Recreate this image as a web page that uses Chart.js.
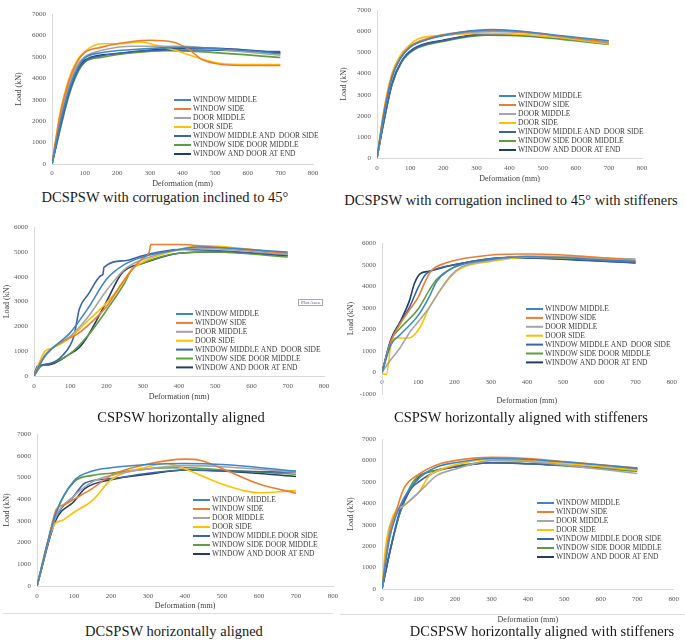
<!DOCTYPE html>
<html>
<head>
<meta charset="utf-8">
<script src="https://cdn.jsdelivr.net/npm/chart.js@4.4.1/dist/chart.umd.min.js"></script>
<style>
  body { margin: 0; background: #fff; width: 685px; height: 640px; position: relative; overflow: hidden; font-family: 'Liberation Serif', 'Times New Roman', serif; }
  .pane { position: absolute; }
  .cap { position: absolute; font-size: 14.5px; line-height: 16px; color: #1a1a1a; white-space: nowrap; transform: translateX(-50%); }
  .rule { position: absolute; height: 1px; background: #dcdcdc; }
  .plotarea { position: absolute; font-size: 5px; color: #555; border: 1px solid #aaa; padding: 0 2px; background: #fff; }
</style>
</head>
<body>

<div class="pane" id="p1"><canvas id="c1"></canvas></div>
<div class="pane" id="p2"><canvas id="c2"></canvas></div>
<div class="pane" id="p3"><canvas id="c3"></canvas></div>
<div class="pane" id="p4"><canvas id="c4"></canvas></div>
<div class="pane" id="p5"><canvas id="c5"></canvas></div>
<div class="pane" id="p6"><canvas id="c6"></canvas></div>

<div class="plotarea" style="left:298px;top:299px;">Plot Area</div>
<div class="rule" style="left:3px;top:613px;width:330px;"></div>
<div class="rule" style="left:340px;top:614px;width:345px;"></div>

<div class="cap" style="left:165px;top:189px;">DCSPSW with corrugation inclined to 45°</div>
<div class="cap" style="left:511px;top:192px;">DCSPSW with corrugation inclined to 45° with stiffeners</div>
<div class="cap" style="left:181px;top:409px;">CSPSW horizontally aligned</div>
<div class="cap" style="left:521px;top:409px;">CSPSW horizontally aligned with stiffeners</div>
<div class="cap" style="left:174px;top:623px;">DCSPSW horizontally aligned</div>
<div class="cap" style="left:542px;top:623px;">DCSPSW horizontally aligned with stiffeners</div>

<script>
// legend labels (panels 5 and 6 use a shorter 5th label)
const labelsA = ['WINDOW MIDDLE', 'WINDOW SIDE', 'DOOR MIDDLE', 'DOOR SIDE',
  'WINDOW MIDDLE AND  DOOR SIDE', 'WINDOW SIDE DOOR MIDDLE', 'WINDOW AND DOOR AT END'];
const labelsB = ['WINDOW MIDDLE', 'WINDOW SIDE', 'DOOR MIDDLE', 'DOOR SIDE',
  'WINDOW MIDDLE DOOR SIDE', 'WINDOW SIDE DOOR MIDDLE', 'WINDOW AND DOOR AT END'];
const seriesColors = ['#3f86c6', '#ed7d31', '#a5a5a5', '#ffc000', '#3c63a8', '#5e9e3f', '#223d66'];

const xTicks = [0, 100, 200, 300, 400, 500, 600, 700, 800];

// 1: DCSPSW with corrugation inclined to 45°  [deformation, load]
const p1WinMid  = [[0,0],[25,1900],[50,3400],[75,4400],[100,4950],[150,5200],[250,5350],[400,5450],[550,5350],[700,5150]];
const p1WinSide = [[0,0],[25,2300],[50,3800],[75,4700],[100,5200],[150,5450],[200,5620],[300,5780],[370,5700],[420,5350],[460,4880],[520,4650],[600,4600],[700,4600]];
const p1DoorMid = [[0,0],[25,2100],[50,3600],[75,4550],[100,5000],[150,5300],[250,5500],[400,5500],[550,5300],[700,5080]];
const p1DoorSide= [[0,0],[25,2400],[50,3900],[75,4800],[100,5250],[150,5620],[200,5620],[270,5700],[320,5550],[380,5300],[450,4950],[520,4700],[600,4650],[700,4650]];
const p1WinMidDoorSide = [[0,0],[25,1700],[50,3200],[75,4250],[100,4800],[150,5050],[250,5250],[350,5330],[450,5330],[700,5250]];
const p1WinSideDoorMid = [[0,0],[25,1600],[50,3100],[75,4150],[100,4750],[150,4980],[250,5200],[350,5300],[450,5250],[700,4980]];
const p1WinDoorEnd = [[0,0],[25,1700],[50,3200],[75,4250],[100,4850],[200,5150],[350,5380],[450,5420],[550,5370],[700,5200]];

// 2: DCSPSW with corrugation inclined to 45° with stiffeners
const p2WinMid  = [[0,0],[20,2000],[45,3800],[70,4700],[100,5250],[150,5600],[250,5950],[350,6080],[450,5980],[550,5800],[700,5550]];
const p2WinSide = [[0,0],[20,2100],[45,3900],[70,4750],[100,5300],[150,5650],[250,5950],[350,6020],[450,5950],[550,5780],[700,5480]];
const p2DoorMid = [[0,0],[20,2000],[45,3800],[70,4700],[100,5250],[150,5620],[250,5900],[350,5980],[450,5930],[550,5760],[700,5450]];
const p2DoorSide= [[0,0],[20,2200],[45,4000],[70,4850],[95,5300],[125,5650],[200,5800],[300,5900],[400,5880],[550,5700],[700,5400]];
const p2WinMidDoorSide = [[0,0],[20,1700],[45,3500],[75,4600],[110,5150],[200,5550],[330,5850],[450,5800],[700,5450]];
const p2WinSideDoorMid = [[0,0],[20,1650],[45,3450],[75,4550],[110,5100],[200,5520],[330,5820],[450,5770],[700,5380]];
const p2WinDoorEnd = [[0,0],[20,1700],[45,3500],[75,4600],[110,5180],[200,5580],[330,5870],[450,5810],[700,5420]];

// 3: CSPSW horizontally aligned
const p3WinMid  = [[0,0],[30,800],[100,1750],[150,2750],[200,3900],[250,4500],[300,4800],[400,5100],[450,5200],[700,5000]];
const p3WinSide = [[0,0],[20,600],[50,1100],[100,1550],[115,1650],[150,2050],[200,2800],[250,3900],[300,4750],[318,5000],[322,5300],[400,5300],[480,5220],[700,4950]];
const p3DoorMid = [[0,0],[30,850],[100,1600],[150,2400],[200,3450],[250,4300],[300,4700],[450,5150],[700,4900]];
const p3DoorSide= [[0,0],[30,1000],[50,1120],[100,1550],[150,2250],[200,2950],[240,3650],[270,4300],[300,4600],[400,5100],[460,5250],[700,4950]];
const p3WinMidDoorSide = [[0,0],[15,400],[40,480],[80,850],[110,1600],[125,2700],[150,3300],[185,4050],[190,4100],[193,4380],[250,4650],[300,4850],[400,5100],[700,4880]];
const p3WinSideDoorMid = [[0,0],[20,400],[50,520],[100,900],[150,1650],[200,2650],[250,3750],[270,4300],[300,4550],[400,4950],[500,5000],[700,4800]];
const p3WinDoorEnd = [[0,0],[10,400],[40,450],[100,900],[125,1150],[150,1650],[200,3000],[240,4100],[260,4350],[300,4550],[400,4950],[500,5000],[700,4850]];

// 4: CSPSW horizontally aligned with stiffeners
const p4WinMid  = [[0,0],[25,1300],[50,1750],[100,2650],[130,3500],[150,4200],[180,4700],[300,5250],[400,5370],[700,5150]];
const p4WinSide = [[0,0],[25,1450],[50,2250],[80,3000],[100,3500],[120,4250],[135,4700],[180,5100],[300,5450],[400,5500],[500,5450],[700,5200]];
const p4DoorMid = [[0,0],[20,500],[50,1150],[80,1950],[100,2350],[130,3000],[160,3800],[190,4500],[220,4900],[300,5200],[400,5400],[700,5270]];
const p4DoorSide= [[0,0],[5,-80],[12,-80],[25,1300],[40,1600],[75,1600],[105,2100],[130,3000],[160,3800],[190,4450],[220,4850],[300,5150],[400,5350],[700,5200]];
const p4WinMidDoorSide = [[0,0],[25,1500],[50,2300],[75,3000],[100,3950],[120,4550],[140,4750],[200,5000],[350,5350],[700,5100]];
const p4WinSideDoorMid = [[0,0],[25,1500],[50,2050],[100,2950],[130,3800],[150,4300],[200,4900],[300,5280],[400,5350],[700,5150]];
const p4WinDoorEnd = [[0,0],[25,1550],[50,2350],[75,3300],[90,4150],[105,4580],[130,4700],[200,5000],[350,5330],[700,5080]];

// 5: DCSPSW horizontally aligned
const p5WinMid  = [[0,0],[50,3300],[100,4850],[150,5300],[200,5450],[300,5600],[400,5650],[500,5600],[700,5300]];
const p5WinSide = [[0,0],[30,2100],[50,3450],[58,3650],[75,3750],[100,4000],[150,4500],[200,5100],[300,5620],[400,5850],[440,5800],[500,5420],[600,4700],[700,4280]];
const p5DoorMid = [[0,0],[50,3150],[100,4150],[150,4800],[200,5100],[300,5400],[400,5550],[500,5500],[700,5250]];
const p5DoorSide= [[0,0],[30,2100],[50,2900],[68,3020],[100,3400],[150,3950],[200,4900],[300,5500],[350,5650],[400,5400],[500,4700],[600,4300],[700,4400]];
const p5WinMidDoorSide = [[0,0],[50,3100],[100,4150],[130,4750],[200,4950],[300,5200],[400,5350],[500,5300],[700,5250]];
const p5WinSideDoorMid = [[0,0],[50,3300],[100,4800],[150,5100],[200,5200],[300,5400],[400,5450],[500,5350],[700,5150]];
const p5WinDoorEnd = [[0,0],[50,3000],[100,3900],[130,4500],[200,4900],[300,5150],[400,5350],[500,5300],[700,5050]];

// 6: DCSPSW horizontally aligned with stiffeners
const p6WinMid  = [[0,0],[20,2300],[50,3900],[100,5150],[150,5700],[200,5900],[300,6100],[400,6050],[700,5650]];
const p6WinSide = [[0,0],[20,2500],[40,3700],[60,4700],[100,5350],[150,5800],[200,6000],[300,6150],[400,6100],[500,5950],[700,5650]];
const p6DoorMid = [[0,0],[20,2700],[40,3600],[60,3900],[100,4500],[150,5300],[200,5600],[300,6000],[400,5950],[700,5400]];
const p6DoorSide= [[0,0],[10,2000],[30,3400],[40,3700],[60,3900],[100,4500],[130,5300],[150,5500],[200,5800],[300,6050],[400,6000],[700,5550]];
const p6WinMidDoorSide = [[0,0],[25,2000],[50,3700],[80,4700],[100,5000],[150,5500],[200,5700],[300,5900],[400,5850],[700,5600]];
const p6WinSideDoorMid = [[0,0],[25,2000],[50,3600],[85,5000],[150,5550],[300,5900],[400,5850],[700,5500]];
const p6WinDoorEnd = [[0,0],[25,2000],[50,3600],[100,5200],[150,5550],[200,5700],[300,5900],[400,5850],[700,5600]];

// layout of each panel: canvas box, axis band sizes and legend spot (page px)
const panes = [
  { id: 'p1', canvas: 'c1', left: 14, top: 4, w: 311, h: 185, yW: 38, xH: 25, padR: 12, xPad: 5, yMin: 0, yMax: 7000,
    series: [p1WinMid, p1WinSide, p1DoorMid, p1DoorSide, p1WinMidDoorSide, p1WinSideDoorMid, p1WinDoorEnd], labels: labelsA, lx: 174, ly: 100, ldy: 9 },
  { id: 'p2', canvas: 'c2', left: 339, top: 0, w: 315, h: 184, yW: 38, xH: 26, padR: 12, xPad: 6, yMin: 0, yMax: 7000,
    series: [p2WinMid, p2WinSide, p2DoorMid, p2DoorSide, p2WinMidDoorSide, p2WinSideDoorMid, p2WinDoorEnd], labels: labelsA, lx: 499, ly: 96, ldy: 9 },
  { id: 'p3', canvas: 'c3', left: 2, top: 217, w: 334, h: 185, yW: 32, xH: 26, padR: 12, xPad: 6, yMin: 0, yMax: 6000,
    series: [p3WinMid, p3WinSide, p3DoorMid, p3DoorSide, p3WinMidDoorSide, p3WinSideDoorMid, p3WinDoorEnd], labels: labelsA, lx: 176, ly: 314, ldy: 8.9 },
  { id: 'p4', canvas: 'c4', left: 346, top: 233, w: 339, h: 173, yW: 36, xH: 12, padR: 8, xPad: 8, mirror: true, yMin: -1000, yMax: 6000,
    series: [p4WinMid, p4WinSide, p4DoorMid, p4DoorSide, p4WinMidDoorSide, p4WinSideDoorMid, p4WinDoorEnd], labels: labelsA, lx: 526, ly: 309, ldy: 8.9 },
  { id: 'p5', canvas: 'c5', left: 2, top: 424, w: 343, h: 187, yW: 35, xH: 25, padR: 12, xPad: 6, yMin: 0, yMax: 7000,
    series: [p5WinMid, p5WinSide, p5DoorMid, p5DoorSide, p5WinMidDoorSide, p5WinSideDoorMid, p5WinDoorEnd], labels: labelsB, lx: 193, ly: 500, ldy: 9 },
  { id: 'p6', canvas: 'c6', left: 346, top: 429, w: 339, h: 196, yW: 36, xH: 36, padR: 7, xPad: 6, yMin: 0, yMax: 7000,
    series: [p6WinMid, p6WinSide, p6DoorMid, p6DoorSide, p6WinMidDoorSide, p6WinSideDoorMid, p6WinDoorEnd], labels: labelsB, lx: 537, ly: 503, ldy: 9 }
];

// small legend drawn inside the plot, Excel style
const boxLegend = {
  id: 'boxLegend',
  afterDraw(chart, args, opts) {
    const ctx = chart.ctx;
    ctx.save();
    ctx.font = '7.5px "Liberation Serif"';
    ctx.textBaseline = 'middle';
    chart.data.datasets.forEach((ds, i) => {
      const y = opts.y + i * opts.dy;
      ctx.strokeStyle = ds.borderColor;
      ctx.lineWidth = 2;
      ctx.beginPath();
      ctx.moveTo(opts.x, y);
      ctx.lineTo(opts.x + 17, y);
      ctx.stroke();
      ctx.fillStyle = '#404040';
      ctx.fillText(ds.label, opts.x + 19, y + 0.5);
    });
    ctx.restore();
  }
};

panes.forEach(p => {
  const box = document.getElementById(p.id);
  box.style.left = p.left + 'px';
  box.style.top = p.top + 'px';
  box.style.width = p.w + 'px';
  box.style.height = p.h + 'px';

  const datasets = p.series.map((pts, i) => ({
    label: p.labels[i],
    data: pts.map(d => ({ x: d[0], y: d[1] })),
    borderColor: seriesColors[i],
    borderWidth: 1.6,
    pointRadius: 0,
    fill: false,
    tension: 0.4,
    cubicInterpolationMode: 'monotone'
  }));

  new Chart(document.getElementById(p.canvas), {
    type: 'line',
    data: { datasets: datasets },
    plugins: [boxLegend],
    options: {
      responsive: true,
      maintainAspectRatio: false,
      animation: false,
      layout: { padding: { top: 6, right: p.padR, left: 0, bottom: 0 } },
      plugins: {
        legend: { display: false },
        tooltip: { enabled: false },
        boxLegend: { x: p.lx - p.left, y: p.ly - p.top, dy: p.ldy }
      },
      scales: {
        x: {
          type: 'linear',
          min: 0, max: 800,
          afterBuildTicks: s => { s.ticks = xTicks.map(v => ({ value: v })); },
          afterFit: s => { s.height = p.xH; },
          grid: { display: false, drawTicks: false },
          border: { display: p.yMin === 0, color: '#d9d9d9' },
          ticks: { font: { family: 'Liberation Serif', size: 7 }, color: '#595959', padding: p.xPad, mirror: !!p.mirror, maxRotation: 0, callback: v => String(v) },
          title: { display: true, text: 'Deformation (mm)', font: { family: 'Liberation Serif', size: 8 }, color: '#404040', padding: 0 }
        },
        y: {
          min: p.yMin, max: p.yMax,
          afterFit: s => { s.width = p.yW; },
          grid: { display: false, drawTicks: false },
          border: { display: true, color: '#d9d9d9' },
          ticks: { stepSize: 1000, font: { family: 'Liberation Serif', size: 7 }, color: '#595959', padding: 6, callback: v => String(v) },
          title: { display: true, text: 'Load (kN)', font: { family: 'Liberation Serif', size: 8 }, color: '#404040', padding: 0 }
        }
      }
    }
  });
});
</script>
</body>
</html>
